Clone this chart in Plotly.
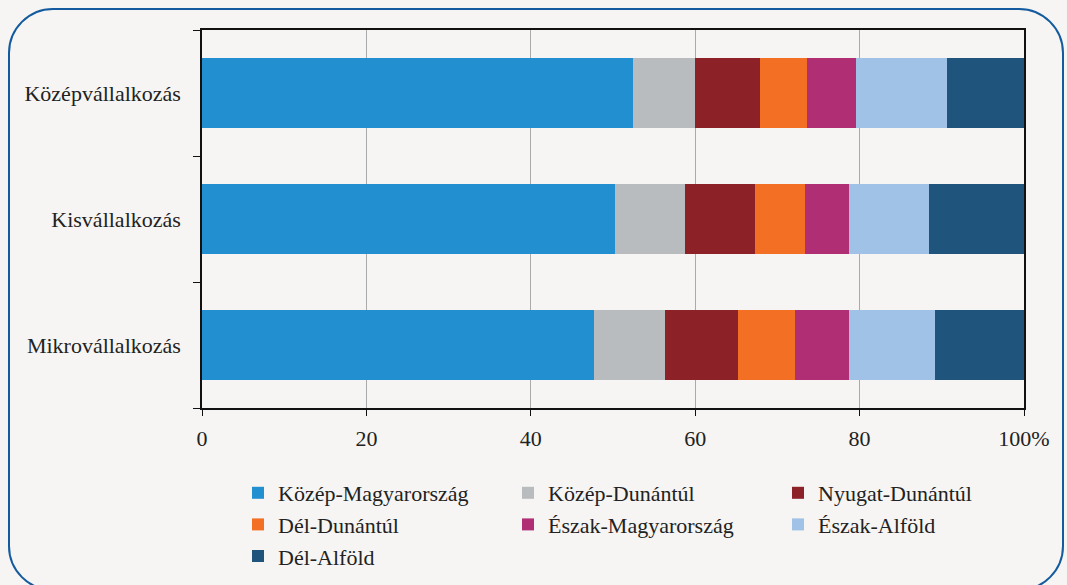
import plotly.graph_objects as go

categories = ["Mikrovállalkozás", "Kisvállalkozás", "Középvállalkozás"]
regions = ["Közép-Magyarország", "Közép-Dunántúl", "Nyugat-Dunántúl", "Dél-Dunántúl",
           "Észak-Magyarország", "Észak-Alföld", "Dél-Alföld"]
# values per region, order: Mikro, Kis, Közép
kozep_magyarorszag = [47.7, 50.2, 52.4]
kozep_dunantul = [8.6, 8.6, 7.6]
nyugat_dunantul = [8.9, 8.5, 7.9]
del_dunantul = [7.0, 6.0, 5.7]
eszak_magyarorszag = [6.5, 5.4, 6.0]
eszak_alfold = [10.5, 9.7, 11.0]
del_alfold = [10.8, 11.6, 9.4]
series = [kozep_magyarorszag, kozep_dunantul, nyugat_dunantul, del_dunantul,
          eszak_magyarorszag, eszak_alfold, del_alfold]
colors = ["#2290d0", "#b8bcbf", "#8c2127", "#f26f24", "#b02e74", "#9fc2e6", "#1f557d"]
tick_vals = [0, 20, 40, 60, 80, 100]
tick_text = ["0", "20", "40", "60", "80", "100%"]

W, H = 1067, 585
L, R, T, B = 202, 1024, 30, 408
FONT = "Liberation Serif, Times New Roman, DejaVu Serif, serif"

fig = go.Figure()
for name, vals, col in zip(regions, series, colors):
    fig.add_trace(go.Bar(y=categories, x=vals, name=name, orientation="h",
                         marker=dict(color=col, line=dict(width=0))))


def px(x):
    return (x - L) / (R - L)


def py(y):
    return (B - y) / (B - T)


# rounded border
x0, x1, y0, y1, r = 9, 1063, 9, 590, 44
k = 0.5523 * r
pts = []
pts.append(f"M{px(x0 + r)},{py(y0)}")
pts.append(f"L{px(x1 - r)},{py(y0)}")
pts.append(f"C{px(x1 - r + k)},{py(y0)} {px(x1)},{py(y0 + r - k)} {px(x1)},{py(y0 + r)}")
pts.append(f"L{px(x1)},{py(y1 - r)}")
pts.append(f"C{px(x1)},{py(y1 - r + k)} {px(x1 - r + k)},{py(y1)} {px(x1 - r)},{py(y1)}")
pts.append(f"L{px(x0 + r)},{py(y1)}")
pts.append(f"C{px(x0 + r - k)},{py(y1)} {px(x0)},{py(y1 - r + k)} {px(x0)},{py(y1 - r)}")
pts.append(f"L{px(x0)},{py(y0 + r)}")
pts.append(f"C{px(x0)},{py(y0 + r - k)} {px(x0 + r - k)},{py(y0)} {px(x0 + r)},{py(y0)}")
pts.append("Z")
fig.add_shape(type="path", path=" ".join(pts), xref="paper", yref="paper",
              line=dict(color="#135b9e", width=2), layer="below")

fig.update_layout(
    width=W, height=H,
    margin=dict(l=L, r=W - R, t=T, b=H - B, pad=0),
    paper_bgcolor="#f6f5f3", plot_bgcolor="#f6f5f3",
    barmode="stack", bargap=0.444,
    font=dict(family=FONT, size=22, color="#222222"),
    showlegend=True,
    legend=dict(orientation="h", xref="container", yref="container",
                x=238 / W, y=1 - 472 / H, xanchor="left", yanchor="top",
                entrywidth=225, entrywidthmode="pixels", itemwidth=30,
                traceorder="normal", bgcolor="rgba(0,0,0,0)",
                font=dict(family=FONT, size=22, color="#222222"),
                tracegroupgap=0, itemclick=False),
    xaxis=dict(range=[0, 100], tickvals=tick_vals, ticktext=tick_text,
               showgrid=True, gridcolor="#aaaaaa", gridwidth=1,
               showline=True, linecolor="#111111", linewidth=1.5, mirror=True,
               ticks="outside", ticklen=6, tickcolor="#111111",
               ticklabelstandoff=4, zeroline=False, fixedrange=True),
    yaxis=dict(categoryorder="array", categoryarray=categories,
               showline=True, linecolor="#111111", linewidth=1.5, mirror=True,
               ticks="outside", ticklen=7, tickcolor="#111111", tickson="boundaries",
               ticklabelstandoff=15, showgrid=False, zeroline=False, fixedrange=True),
)

fig.write_html("out.html", config={"displayModeBar": False},
               post_script="document.body.style.margin='0';document.body.style.padding='0';document.body.style.overflow='hidden';")
